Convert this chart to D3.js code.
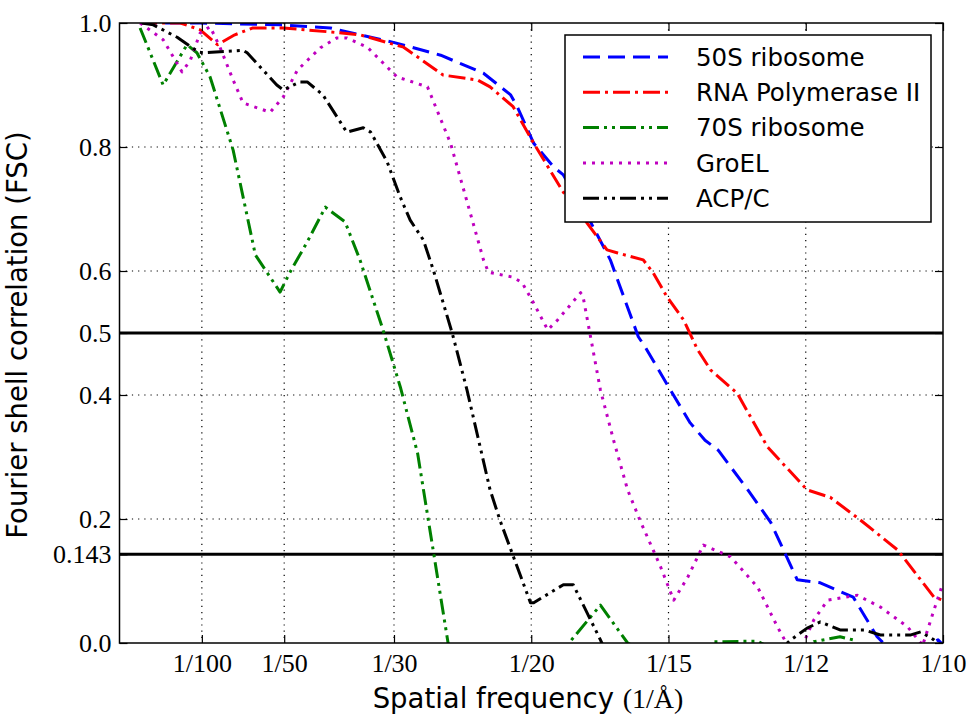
<!DOCTYPE html>
<meta charset="utf-8">
<style>
  body { margin: 0; background: white; }
  .tick text { font-family: "Liberation Serif", serif; }
</style>
<body>
<script src="https://cdn.jsdelivr.net/npm/d3@7"></script>
<script>

// spatial frequency (1/A) , FSC
const ribosome50S = [
  [0.0025, 1.0], [0.0098, 1.0], [0.0195, 0.997], [0.0256, 0.992], [0.0335, 0.968],
  [0.0390, 0.948], [0.0442, 0.919], [0.0475, 0.884], [0.0483, 0.865], [0.0503, 0.806],
  [0.0527, 0.768], [0.0539, 0.755], [0.0572, 0.679], [0.0596, 0.618], [0.0630, 0.494],
  [0.0639, 0.476], [0.0669, 0.408], [0.0693, 0.355], [0.0711, 0.327], [0.0727, 0.311],
  [0.0763, 0.247], [0.0791, 0.194], [0.0823, 0.102], [0.0851, 0.097], [0.0891, 0.074],
  [0.0920, 0.010], [0.0936, -0.011], [0.0981, -0.003], [0.0994, 0.005], [0.1000, -0.003]
];
const rnaPolII = [
  [0.0025, 1.0], [0.0074, 1.0], [0.0098, 0.989], [0.0119, 0.965], [0.0140, 0.981],
  [0.0162, 0.992], [0.0199, 0.992], [0.0252, 0.986], [0.0292, 0.981], [0.0345, 0.961],
  [0.0393, 0.916], [0.0435, 0.908], [0.0450, 0.897], [0.0478, 0.865], [0.0503, 0.806],
  [0.0539, 0.727], [0.0568, 0.677], [0.0592, 0.634], [0.0605, 0.629], [0.0636, 0.618],
  [0.0648, 0.597], [0.0665, 0.558], [0.0685, 0.521], [0.0702, 0.473], [0.0718, 0.440],
  [0.0750, 0.403], [0.0787, 0.316], [0.0835, 0.247], [0.0863, 0.235], [0.0900, 0.198],
  [0.0945, 0.150], [0.0989, 0.074], [0.1000, 0.069]
];
const ribosome70S = [
  [0.0025, 0.992], [0.0053, 0.900], [0.0082, 0.965], [0.0094, 0.952], [0.0110, 0.913],
  [0.0138, 0.795], [0.0165, 0.626], [0.0195, 0.566], [0.0207, 0.598], [0.0228, 0.647],
  [0.0250, 0.703], [0.0274, 0.679], [0.0292, 0.618], [0.0320, 0.505], [0.0341, 0.413],
  [0.0362, 0.306], [0.0399, 0.0], [0.0407, -0.06], [0.0535, -0.03], [0.0547, 0.002],
  [0.0584, 0.061], [0.0617, 0.0], [0.0645, -0.02], [0.0710, -0.01], [0.0721, 0.002],
  [0.0775, 0.003], [0.0790, -0.008], [0.0833, -0.008], [0.0843, 0.002], [0.0875, 0.010],
  [0.0891, 0.005], [0.0900, -0.011], [0.0948, -0.03], [0.1000, -0.02]
];
const groEL = [
  [0.0025, 1.0], [0.0053, 0.973], [0.0076, 0.921], [0.0086, 0.940], [0.0098, 0.984],
  [0.0110, 0.994], [0.0122, 0.961], [0.0138, 0.908], [0.0150, 0.871], [0.0183, 0.856],
  [0.0199, 0.881], [0.0216, 0.924], [0.0244, 0.960], [0.0264, 0.976], [0.0276, 0.976],
  [0.0301, 0.961], [0.0313, 0.945], [0.0337, 0.913], [0.0374, 0.897], [0.0402, 0.806],
  [0.0442, 0.618], [0.0448, 0.598], [0.0478, 0.590], [0.0489, 0.581], [0.0503, 0.548],
  [0.0520, 0.505], [0.0532, 0.521], [0.0560, 0.565], [0.0563, 0.558], [0.0572, 0.494],
  [0.0584, 0.408], [0.0600, 0.327], [0.0617, 0.247], [0.0632, 0.198], [0.0657, 0.123],
  [0.0673, 0.069], [0.0690, 0.106], [0.0709, 0.158], [0.0742, 0.139], [0.0775, 0.090],
  [0.0799, 0.026], [0.0811, -0.003], [0.0827, -0.011], [0.0843, 0.037], [0.0860, 0.069],
  [0.0896, 0.077], [0.0924, 0.058], [0.0957, 0.026], [0.0973, 0.0], [0.0975, -0.005],
  [0.0989, 0.053], [0.1000, 0.097]
];
const acpc = [
  [0.0027, 1.0], [0.0041, 0.997], [0.0070, 0.977], [0.0096, 0.953], [0.0102, 0.952],
  [0.0150, 0.956], [0.0155, 0.952], [0.0191, 0.900], [0.0199, 0.892], [0.0219, 0.905],
  [0.0228, 0.905], [0.0247, 0.884], [0.0276, 0.824], [0.0296, 0.831], [0.0305, 0.824],
  [0.0325, 0.776], [0.0341, 0.719], [0.0353, 0.682], [0.0369, 0.650], [0.0381, 0.602],
  [0.0404, 0.500], [0.0422, 0.408], [0.0450, 0.247], [0.0462, 0.198], [0.0499, 0.065],
  [0.0503, 0.065], [0.0539, 0.094], [0.0551, 0.094], [0.0584, 0.005], [0.0596, -0.03],
  [0.0802, -0.011], [0.0815, 0.005], [0.0835, 0.024], [0.0851, 0.034], [0.0875, 0.021],
  [0.0904, 0.021], [0.0924, 0.013], [0.0961, 0.013], [0.0973, 0.018], [0.0989, 0.005],
  [0.1000, -0.008]
];

const seriesNames = ["50S ribosome", "RNA Polymerase II", "70S ribosome", "GroEL", "ACP/C"];
const seriesData = [ribosome50S, rnaPolII, ribosome70S, groEL, acpc];
const seriesColors = ["#0000ff", "#ff0000", "#008000", "#bf00bf", "#000000"];
const seriesDashes = ["17,8", "17,5,3,5", "16,5,3,5,3,5", "3,6", "16,5,3,5,3,5"];

const xTickValues = [1/100, 1/50, 1/30, 1/20, 1/15, 1/12, 1/10];
const xTickLabels = ["1/100", "1/50", "1/30", "1/20", "1/15", "1/12", "1/10"];
const yTickValues = [0, 0.143, 0.2, 0.4, 0.5, 0.6, 0.8, 1.0];
const yTickLabels = ["0.0", "0.143", "0.2", "0.4", "0.5", "0.6", "0.8", "1.0"];
const yGridValues = [0.2, 0.4, 0.6, 0.8];
const thresholds = [0.5, 0.143];

const W = 974, H = 717;
const m = {left: 119.5, right: 943, top: 23, bottom: 643};

const x = d3.scaleLinear().domain([0, 0.1]).range([m.left, m.right]);
const y = d3.scaleLinear().domain([0, 1]).range([m.bottom, m.top]);

const svg = d3.select("body").append("svg")
  .attr("width", W).attr("height", H)
  .style("background", "white");

svg.append("defs").append("clipPath").attr("id", "plotclip")
  .append("rect")
  .attr("x", m.left).attr("y", m.top)
  .attr("width", m.right - m.left).attr("height", m.bottom - m.top);

// grid (dotted)
const grid = svg.append("g");
grid.selectAll("line.vx")
  .data(xTickValues.slice(0, -1))
  .join("line")
  .attr("x1", d => x(d)).attr("x2", d => x(d))
  .attr("y1", m.top).attr("y2", m.bottom)
  .attr("stroke", "#000").attr("stroke-width", 1.2)
  .attr("stroke-dasharray", "1.2,5");
grid.selectAll("line.hy")
  .data(yGridValues)
  .join("line")
  .attr("x1", m.left).attr("x2", m.right)
  .attr("y1", d => y(d)).attr("y2", d => y(d))
  .attr("stroke", "#000").attr("stroke-width", 1.2)
  .attr("stroke-dasharray", "1.2,5");

// threshold lines
svg.append("g").selectAll("line")
  .data(thresholds)
  .join("line")
  .attr("x1", m.left).attr("x2", m.right)
  .attr("y1", d => y(d)).attr("y2", d => y(d))
  .attr("stroke", "#000").attr("stroke-width", 3);

// curves
const line = d3.line().x(d => x(d[0])).y(d => y(d[1]));
svg.append("g").attr("clip-path", "url(#plotclip)")
  .selectAll("path")
  .data(seriesData)
  .join("path")
  .attr("d", line)
  .attr("fill", "none")
  .attr("stroke", (d, i) => seriesColors[i])
  .attr("stroke-width", 3)
  .attr("stroke-dasharray", (d, i) => seriesDashes[i])
  .attr("stroke-linejoin", "round");

// axes, ticks pointing inward
const xAxis = d3.axisBottom(x).tickValues(xTickValues)
  .tickFormat((d, i) => xTickLabels[i]).tickSize(-8).tickPadding(10.5);
const yAxis = d3.axisLeft(y).tickValues(yTickValues)
  .tickFormat((d, i) => yTickLabels[i]).tickSize(-8).tickPadding(8);

function styleAxis(g) {
  g.select(".domain").remove();
  g.selectAll(".tick line").attr("stroke", "#000").attr("stroke-width", 1.2);
  g.selectAll(".tick text").attr("fill", "#000").style("font-size", "26px");
}

svg.append("g").attr("transform", `translate(0,${m.bottom})`).call(xAxis).call(styleAxis);
svg.append("g").attr("transform", `translate(${m.left},0)`).call(yAxis).call(styleAxis);
svg.append("g").attr("transform", `translate(0,${m.top})`)
  .call(d3.axisTop(x).tickValues(xTickValues).tickFormat("").tickSize(-8)).call(styleAxis);
svg.append("g").attr("transform", `translate(${m.right},0)`)
  .call(d3.axisRight(y).tickValues(yTickValues).tickFormat("").tickSize(-8)).call(styleAxis);

// frame
svg.append("rect")
  .attr("x", m.left).attr("y", m.top)
  .attr("width", m.right - m.left).attr("height", m.bottom - m.top)
  .attr("fill", "none").attr("stroke", "#000").attr("stroke-width", 1.5);

// axis labels
const xl = svg.append("text")
  .attr("x", 528).attr("y", 708)
  .attr("text-anchor", "middle")
  .style("font-family", "DejaVu Sans").style("font-size", "27.5px");
xl.append("tspan").text("Spatial frequency ");
xl.append("tspan").style("font-family", "Liberation Serif").style("font-size", "28px").text("(1/Å)");

svg.append("text")
  .attr("transform", `translate(27,${(m.top + m.bottom) / 2 + 2}) rotate(-90)`)
  .attr("text-anchor", "middle")
  .style("font-family", "DejaVu Sans").style("font-size", "27.5px")
  .text("Fourier shell correlation (FSC)");

// legend
const legend = svg.append("g");
legend.append("rect")
  .attr("x", 565).attr("y", 35).attr("width", 366).attr("height", 187)
  .attr("fill", "white").attr("stroke", "#000").attr("stroke-width", 1.5);
const rows = legend.selectAll("g.row")
  .data(seriesNames)
  .join("g")
  .attr("transform", (d, i) => `translate(0,${57 + i * 35.3})`);
rows.append("line")
  .attr("x1", 583).attr("x2", 668)
  .attr("stroke", (d, i) => seriesColors[i])
  .attr("stroke-width", 3)
  .attr("stroke-dasharray", (d, i) => seriesDashes[i]);
rows.append("text")
  .attr("x", 696).attr("dy", "0.36em")
  .style("font-family", "DejaVu Sans").style("font-size", "24.5px")
  .text(d => d);

</script>
</body>
</html>
